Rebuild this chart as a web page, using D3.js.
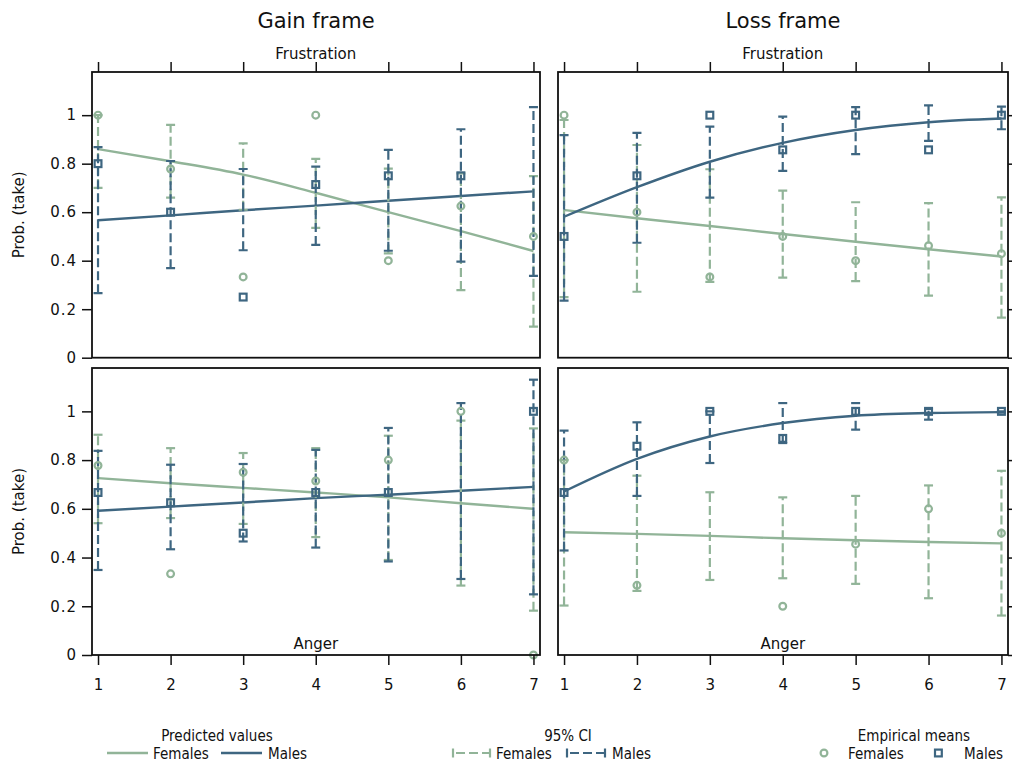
<!DOCTYPE html>
<html><head><meta charset="utf-8">
<script src="https://cdn.jsdelivr.net/npm/d3@7"></script>
<style>
html,body{margin:0;padding:0;background:#fff;}
svg{display:block;}
text{font-family:"DejaVu Sans",Verdana,sans-serif;fill:#111;}
.leg{font-family:"DejaVu Sans Condensed","DejaVu Sans",sans-serif;font-stretch:condensed;}
</style></head>
<body>
<svg id="chart" width="1012" height="765"></svg>
<script>
// ---------------- data ----------------
const xValues = [1, 2, 3, 4, 5, 6, 7];
const xTickLabels = ["1", "2", "3", "4", "5", "6", "7"];
const yTicks = [0, 0.2, 0.4, 0.6, 0.8, 1];
const yTickLabels = ["0", "0.2", "0.4", "0.6", "0.8", "1"];
const frames = ["Gain frame", "Loss frame"];
const emotions = ["Frustration", "Anger"];
const seriesNames = ["Females", "Males"];

// Gain frame - Frustration
const gainFrustPredF = [0.86, 0.81, 0.755, 0.68, 0.60, 0.522, 0.44];
const gainFrustPredM = [0.567, 0.587, 0.608, 0.627, 0.647, 0.667, 0.686];
const gainFrustLoF = [0.70, 0.66, 0.61, 0.535, 0.43, 0.279, 0.128];
const gainFrustHiF = [1.0, 0.96, 0.884, 0.82, 0.78, 0.76, 0.749];
const gainFrustLoM = [0.266, 0.369, 0.443, 0.465, 0.441, 0.396, 0.337];
const gainFrustHiM = [0.868, 0.811, 0.778, 0.788, 0.857, 0.942, 1.033];
const gainFrustEmpF = [1.0, 0.778, 0.333, 1.0, 0.4, 0.625, 0.5];
const gainFrustEmpM = [0.8, 0.6, 0.25, 0.714, 0.75, 0.75, null];

// Loss frame - Frustration
const lossFrustPredF = [0.609, 0.575, 0.543, 0.51, 0.478, 0.447, 0.417];
const lossFrustPredM = [0.581, 0.703, 0.808, 0.886, 0.939, 0.971, 0.986];
const lossFrustLoF = [0.25, 0.272, 0.313, 0.33, 0.316, 0.256, 0.165];
const lossFrustHiF = [0.98, 0.877, 0.777, 0.689, 0.641, 0.637, 0.661];
const lossFrustLoM = [0.235, 0.474, 0.66, 0.77, 0.839, 0.894, 0.942];
const lossFrustHiM = [0.918, 0.927, 0.953, 0.994, 1.033, 1.04, 1.035];
const lossFrustEmpF = [1.0, 0.6, 0.333, 0.5, 0.4, 0.4615, 0.429];
const lossFrustEmpM = [0.5, 0.75, 1.0, 0.857, 1.0, 0.857, 1.0];

// Gain frame - Anger
const gainAngerPredF = [0.726, 0.705, 0.686, 0.667, 0.647, 0.623, 0.60];
const gainAngerPredM = [0.592, 0.609, 0.626, 0.644, 0.658, 0.674, 0.690];
const gainAngerLoF = [0.541, 0.562, 0.538, 0.484, 0.39, 0.285, 0.182];
const gainAngerHiF = [0.904, 0.849, 0.829, 0.849, 0.90, 0.962, 0.93];
const gainAngerLoM = [0.349, 0.434, 0.466, 0.441, 0.384, 0.312, 0.249];
const gainAngerHiM = [0.838, 0.781, 0.784, 0.842, 0.932, 1.034, 1.13];
const gainAngerEmpF = [0.778, 0.333, 0.75, 0.714, 0.8, 1.0, 0.0];
const gainAngerEmpM = [0.667, 0.625, 0.5, 0.667, 0.667, null, 1.0];

// Loss frame - Anger
const lossAngerPredF = [0.504, 0.497, 0.489, 0.479, 0.471, 0.464, 0.458];
const lossAngerPredM = [0.671, 0.805, 0.897, 0.952, 0.982, 0.993, 0.997];
const lossAngerLoF = [0.203, 0.263, 0.308, 0.315, 0.292, 0.233, 0.162];
const lossAngerHiF = [0.80, 0.736, 0.668, 0.647, 0.653, 0.696, 0.756];
const lossAngerLoM = [0.429, 0.653, 0.788, 0.87, 0.925, 0.966, 0.995];
const lossAngerHiM = [0.921, 0.955, 1.0, 1.034, 1.034, 1.01, 1.0];
const lossAngerEmpF = [0.8, 0.286, null, 0.2, 0.455, 0.6, 0.5];
const lossAngerEmpM = [0.667, 0.857, 1.0, 0.889, 1.0, 1.0, 1.0];

// ---------------- drawing ----------------
const GREEN = "#91b498";
const BLUE = "#3e6681";
const svg = d3.select("#chart");

const panels = [
  {frame: 0, emo: 0, x0: 92, x1: 540, y0: 72, y1: 357.7,
   predF: gainFrustPredF, predM: gainFrustPredM, loF: gainFrustLoF, hiF: gainFrustHiF,
   loM: gainFrustLoM, hiM: gainFrustHiM, empF: gainFrustEmpF, empM: gainFrustEmpM},
  {frame: 1, emo: 0, x0: 558, x1: 1008, y0: 72, y1: 357.7,
   predF: lossFrustPredF, predM: lossFrustPredM, loF: lossFrustLoF, hiF: lossFrustHiF,
   loM: lossFrustLoM, hiM: lossFrustHiM, empF: lossFrustEmpF, empM: lossFrustEmpM},
  {frame: 0, emo: 1, x0: 92, x1: 540, y0: 368, y1: 655,
   predF: gainAngerPredF, predM: gainAngerPredM, loF: gainAngerLoF, hiF: gainAngerHiF,
   loM: gainAngerLoM, hiM: gainAngerHiM, empF: gainAngerEmpF, empM: gainAngerEmpM},
  {frame: 1, emo: 1, x0: 558, x1: 1008, y0: 368, y1: 655,
   predF: lossAngerPredF, predM: lossAngerPredM, loF: lossAngerLoF, hiF: lossAngerHiF,
   loM: lossAngerLoM, hiM: lossAngerHiM, empF: lossAngerEmpF, empM: lossAngerEmpM}
];

function drawCI(g, x, y, lo, hi, color) {
  const cg = g.append("g");
  xValues.forEach((xv, i) => {
    if (lo[i] == null || hi[i] == null) return;
    const px = x(xv);
    cg.append("line").attr("x1", px).attr("x2", px)
      .attr("y1", y(lo[i])).attr("y2", y(hi[i]))
      .attr("stroke", color).attr("stroke-width", 2.2).attr("stroke-dasharray", "9,4");
    [lo[i], hi[i]].forEach(v => {
      cg.append("line").attr("x1", px - 4.5).attr("x2", px + 4.5)
        .attr("y1", y(v)).attr("y2", y(v))
        .attr("stroke", color).attr("stroke-width", 2.2);
    });
  });
}

panels.forEach(p => {
  const x = d3.scaleLinear().domain([0.917, 7.09]).range([p.x0, p.x1]);
  const y = d3.scaleLinear().domain([0, 1.178]).range([p.y1, p.y0]);
  const g = svg.append("g");

  const cid = "clip" + p.frame + p.emo;
  svg.append("clipPath").attr("id", cid).append("rect")
    .attr("x", p.x0).attr("y", p.y0).attr("width", p.x1 - p.x0).attr("height", p.y1 - p.y0);
  const inner = g.append("g").attr("clip-path", "url(#" + cid + ")");

  const line = d3.line().x((d, i) => x(xValues[i])).y(d => y(d)).curve(d3.curveMonotoneX);
  inner.append("path").datum(p.predF).attr("d", line).attr("fill", "none")
    .attr("stroke", GREEN).attr("stroke-width", 2.4);
  inner.append("path").datum(p.predM).attr("d", line).attr("fill", "none")
    .attr("stroke", BLUE).attr("stroke-width", 2.4);

  drawCI(inner, x, y, p.loF, p.hiF, GREEN);
  drawCI(inner, x, y, p.loM, p.hiM, BLUE);

  xValues.forEach((xv, i) => {
    if (p.empF[i] != null) {
      g.append("circle").attr("cx", x(xv)).attr("cy", y(p.empF[i])).attr("r", 3.4)
        .attr("fill", "none").attr("stroke", GREEN).attr("stroke-width", 2.2);
    }
  });
  xValues.forEach((xv, i) => {
    if (p.empM[i] != null) {
      g.append("rect").attr("x", x(xv) - 3.4).attr("y", y(p.empM[i]) - 3.4)
        .attr("width", 6.8).attr("height", 6.8)
        .attr("fill", "none").attr("stroke", BLUE).attr("stroke-width", 2.2);
    }
  });

  g.append("rect").attr("x", p.x0).attr("y", p.y0).attr("width", p.x1 - p.x0)
    .attr("height", p.y1 - p.y0).attr("fill", "none").attr("stroke", "#111").attr("stroke-width", 1.8);

  if (p.frame === 0) {
    const ya = d3.axisLeft(y).tickValues(yTicks).tickSize(10).tickPadding(5)
      .tickFormat((d, i) => yTickLabels[i]);
    const ag = g.append("g").attr("transform", `translate(${p.x0},0)`).call(ya);
    ag.select(".domain").remove();
    ag.selectAll("line").attr("stroke", "#111").attr("stroke-width", 1.5);
    ag.selectAll("text").attr("font-size", 15).attr("fill", "#111").style("letter-spacing", "1px");
    g.append("text").attr("transform", `translate(24,${(p.y0 + p.y1) / 2}) rotate(-90)`)
      .attr("text-anchor", "middle").attr("font-size", 15).text("Prob. (take)");
  } else {
    const ya = d3.axisRight(y).tickValues(yTicks).tickSize(10).tickFormat("");
    const ag = g.append("g").attr("transform", `translate(${p.x1},0)`).call(ya);
    ag.select(".domain").remove();
    ag.selectAll("line").attr("stroke", "#111").attr("stroke-width", 1.5);
  }

  if (p.emo === 0) {
    const xa = d3.axisTop(x).tickValues(xValues).tickSize(10).tickFormat("");
    const ag = g.append("g").attr("transform", `translate(0,${p.y0})`).call(xa);
    ag.select(".domain").remove();
    ag.selectAll("line").attr("stroke", "#111").attr("stroke-width", 1.5);
    g.append("text").attr("x", x(4)).attr("y", 59).attr("text-anchor", "middle")
      .attr("font-size", 15).text(emotions[0]);
    svg.append("text").attr("x", (p.x0 + p.x1) / 2).attr("y", 28).attr("text-anchor", "middle")
      .attr("font-size", 21).text(frames[p.frame]);
  } else {
    const xa = d3.axisBottom(x).tickValues(xValues).tickSize(10).tickPadding(14)
      .tickFormat((d, i) => xTickLabels[i]);
    const ag = g.append("g").attr("transform", `translate(0,${p.y1})`).call(xa);
    ag.select(".domain").remove();
    ag.selectAll("line").attr("stroke", "#111").attr("stroke-width", 1.5);
    ag.selectAll("text").attr("font-size", 15).attr("fill", "#111");
    g.append("text").attr("x", x(4)).attr("y", 649).attr("text-anchor", "middle")
      .attr("font-size", 15).text(emotions[1]);
  }
});

// ---------------- legend ----------------
const leg = svg.append("g").attr("class", "leg");
const LY = 753, TY = 741, RY = 759;
function legText(x, y, s, anchor) {
  leg.append("text").attr("class", "leg").attr("x", x).attr("y", y)
    .attr("text-anchor", anchor || "start").attr("font-size", 15).text(s);
}
legText(217, TY, "Predicted values", "middle");
leg.append("line").attr("x1", 107).attr("x2", 148).attr("y1", LY).attr("y2", LY)
  .attr("stroke", GREEN).attr("stroke-width", 2.4);
legText(153, RY, seriesNames[0]);
leg.append("line").attr("x1", 221).attr("x2", 262).attr("y1", LY).attr("y2", LY)
  .attr("stroke", BLUE).attr("stroke-width", 2.4);
legText(268, RY, seriesNames[1]);

legText(568, TY, "95% CI", "middle");
function ciSample(x0, x1, color) {
  leg.append("line").attr("x1", x0).attr("x2", x1).attr("y1", LY).attr("y2", LY)
    .attr("stroke", color).attr("stroke-width", 2.2).attr("stroke-dasharray", "9,4").attr("stroke-dashoffset", -3);
  [x0, x1].forEach(xx => leg.append("line").attr("x1", xx).attr("x2", xx)
    .attr("y1", LY - 4.5).attr("y2", LY + 4.5).attr("stroke", color).attr("stroke-width", 2.2));
}
ciSample(453, 490, GREEN);
legText(496, RY, seriesNames[0]);
ciSample(567, 605, BLUE);
legText(612, RY, seriesNames[1]);

legText(914, TY, "Empirical means", "middle");
leg.append("circle").attr("cx", 824).attr("cy", LY).attr("r", 3.4)
  .attr("fill", "none").attr("stroke", GREEN).attr("stroke-width", 2.2);
legText(848, RY, seriesNames[0]);
leg.append("rect").attr("x", 935).attr("y", LY - 3.4).attr("width", 6.8).attr("height", 6.8)
  .attr("fill", "none").attr("stroke", BLUE).attr("stroke-width", 2.2);
legText(964, RY, seriesNames[1]);
</script>
</body></html>
